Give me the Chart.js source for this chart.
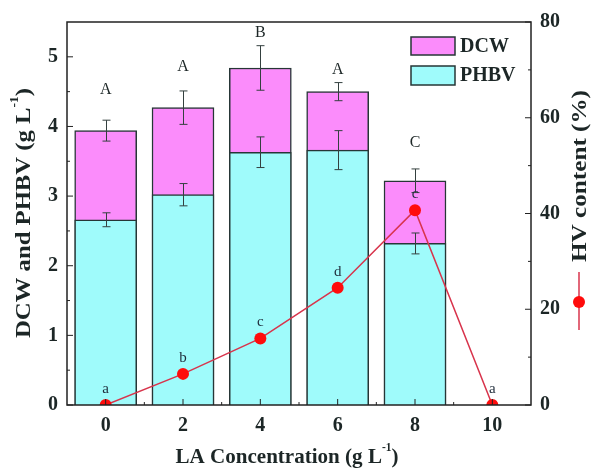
<!DOCTYPE html>
<html>
<head>
<meta charset="utf-8">
<script src="https://cdn.jsdelivr.net/npm/chart.js@4/dist/chart.umd.min.js"></script>
<style>
    html, body { margin: 0; padding: 0; background: #fff; }
    #wrap { width: 596px; height: 470px; }
</style>
</head>
<body>
<div id="wrap"><canvas id="chart"></canvas></div>
<script>
// data
let conc = [0, 2, 4, 6, 8, 10]
let dcw = [3.94, 4.27, 4.84, 4.50, 3.22, null]
let dcwErr = [0.15, 0.24, 0.32, 0.13, 0.17, null]
let phbv = [2.66, 3.02, 3.63, 3.66, 2.32, null]
let phbvErr = [0.10, 0.16, 0.22, 0.28, 0.15, null]
let hv = [0, 6.5, 13.9, 24.5, 40.7, 0]
let barLetters = ['A', 'A', 'B', 'A', 'C', '']
let barLetterY = [4.53, 4.86, 5.34, 4.81, 3.76, null]
let hvLetters = ['a', 'b', 'c', 'd', 'c', 'a']
let yTicks = [0, 1, 2, 3, 4, 5]
let yMinor = [0.5, 1.5, 2.5, 3.5, 4.5]
let y1Ticks = [0, 20, 40, 60, 80]
let y1Minor = [10, 30, 50, 70]
let xTicks = [0, 2, 4, 6, 8, 10]
let xMinor = [1, 3, 5, 7, 9]

const serif = '"Liberation Serif", "Times New Roman", serif'
const ink = '#1c2626'
const cyan = '#9ffbfb'
const pink = '#fb8cfb'
const red = '#ff0c0c'
const redLine = '#d8344c'

function pts(ys) {
    return conc.map((x, i) => ({ x: x, y: ys[i] }))
}

// title with a superscript, squeezed/stretched to a given length
function title(c, pre, sup, post, cx, cy, angle, size, len) {
    c.save()
    c.translate(cx, cy)
    c.rotate(angle)
    let big = 'bold ' + size + 'px ' + serif
    let small = 'bold ' + Math.round(size * 0.55) + 'px ' + serif
    c.font = big
    let w1 = c.measureText(pre).width
    let w3 = c.measureText(post).width
    c.font = small
    let w2 = sup ? c.measureText(sup).width : 0
    let total = w1 + w2 + w3
    c.scale(len / total, 1)
    let x = -total / 2
    c.fillStyle = ink
    c.textBaseline = 'middle'
    c.textAlign = 'left'
    c.font = big
    c.fillText(pre, x, 0)
    if (sup) {
        c.font = small
        c.fillText(sup, x + w1, -size * 0.4)
    }
    c.font = big
    c.fillText(post, x + w1 + w2, 0)
    c.restore()
}

const errorBars = {
    id: 'errorBars',
    afterDatasetDraw(chart, args) {
        if (args.index !== 1) return
        let c = chart.ctx
        let x = chart.scales.x, y = chart.scales.y
        c.save()
        c.strokeStyle = '#34403f'
        c.lineWidth = 1
        let draw = (vals, errs) => {
            vals.forEach((v, i) => {
                if (v == null) return
                let px = Math.round(x.getPixelForValue(conc[i])) + 0.5
                let top = y.getPixelForValue(v + errs[i])
                let bot = y.getPixelForValue(v - errs[i])
                c.beginPath()
                c.moveTo(px, top); c.lineTo(px, bot)
                c.moveTo(px - 4, top); c.lineTo(px + 4, top)
                c.moveTo(px - 4, bot); c.lineTo(px + 4, bot)
                c.stroke()
            })
        }
        draw(dcw, dcwErr)
        draw(phbv, phbvErr)
        c.restore()
    }
}

const decor = {
    id: 'decor',
    afterDraw(chart) {
        let c = chart.ctx
        let a = chart.chartArea
        let x = chart.scales.x, y = chart.scales.y, y1 = chart.scales.y1
        c.save()

        // frame
        c.strokeStyle = '#222'
        c.lineWidth = 1.5
        c.strokeRect(a.left, a.top, a.right - a.left, a.bottom - a.top)

        // tick marks, pointing inward
        c.lineWidth = 1
        c.beginPath()
        yTicks.forEach(v => { let p = y.getPixelForValue(v); c.moveTo(a.left, p); c.lineTo(a.left + 6, p) })
        yMinor.forEach(v => { let p = y.getPixelForValue(v); c.moveTo(a.left, p); c.lineTo(a.left + 3, p) })
        y1Ticks.forEach(v => { let p = y1.getPixelForValue(v); c.moveTo(a.right, p); c.lineTo(a.right - 6, p) })
        y1Minor.forEach(v => { let p = y1.getPixelForValue(v); c.moveTo(a.right, p); c.lineTo(a.right - 3, p) })
        xTicks.forEach(v => { let p = x.getPixelForValue(v); c.moveTo(p, a.bottom); c.lineTo(p, a.bottom - 6) })
        xMinor.forEach(v => { let p = x.getPixelForValue(v); c.moveTo(p, a.bottom); c.lineTo(p, a.bottom - 3) })
        c.stroke()

        // tick labels
        c.fillStyle = ink
        c.font = 'bold 20px ' + serif
        c.textBaseline = 'middle'
        c.textAlign = 'right'
        yTicks.forEach(v => c.fillText(String(v), a.left - 9, y.getPixelForValue(v)))
        c.textAlign = 'left'
        y1Ticks.forEach(v => c.fillText(String(v), a.right + 9, y1.getPixelForValue(v)))
        c.textAlign = 'center'
        xTicks.forEach(v => c.fillText(String(v), x.getPixelForValue(v), a.bottom + 21))

        // axis titles
        title(c, 'DCW and PHBV (g L', '-1', ')', 24, 213, -Math.PI / 2, 22, 250)
        title(c, 'LA Concentration (g L', '-1', ')', 287, 457, 0, 22, 223)
        title(c, 'HV content (%)', '', '', 580, 176, -Math.PI / 2, 22, 172)
        // line+marker key below the right title
        c.strokeStyle = redLine
        c.lineWidth = 1.5
        c.beginPath()
        c.moveTo(579, 272); c.lineTo(579, 330)
        c.stroke()
        c.fillStyle = red
        c.beginPath()
        c.arc(579, 302, 6, 0, Math.PI * 2)
        c.fill()

        // legend for the bars
        c.lineWidth = 1.5
        c.strokeStyle = '#263636'
        c.fillStyle = pink
        c.fillRect(411, 37, 44, 18); c.strokeRect(411, 37, 44, 18)
        c.fillStyle = cyan
        c.fillRect(411, 66, 44, 19); c.strokeRect(411, 66, 44, 19)
        c.fillStyle = ink
        c.font = 'bold 20px ' + serif
        c.textAlign = 'left'
        c.fillText('DCW', 460, 47)
        c.fillText('PHBV', 460, 76)

        // significance letters
        c.font = '16px ' + serif
        c.textAlign = 'center'
        barLetters.forEach((t, i) => {
            if (!t) return
            c.fillText(t, x.getPixelForValue(conc[i]), y.getPixelForValue(barLetterY[i]))
        })
        c.fillStyle = '#1f2c3a'
        c.font = '15px ' + serif
        hvLetters.forEach((t, i) => {
            c.fillText(t, x.getPixelForValue(conc[i]), y1.getPixelForValue(hv[i]) - 16)
        })
        c.restore()
    }
}

const chart = new Chart(document.getElementById('chart').getContext('2d'), {
    type: 'bar',
    data: {
        datasets: [{
            type: 'line',
            label: 'HV content',
            data: pts(hv),
            yAxisID: 'y1',
            order: 0,
            clip: 0,
            borderColor: redLine,
            borderWidth: 1.5,
            pointRadius: 6,
            pointBackgroundColor: red,
            pointBorderWidth: 0,
            tension: 0
        }, {
            label: 'PHBV',
            data: pts(phbv),
            yAxisID: 'y',
            order: 1,
            backgroundColor: cyan,
            borderColor: '#263636',
            borderWidth: 1.5,
            barThickness: 62,
            grouped: false
        }, {
            label: 'DCW',
            data: pts(dcw),
            yAxisID: 'y',
            order: 2,
            backgroundColor: pink,
            borderColor: '#263636',
            borderWidth: 1.5,
            barThickness: 62,
            grouped: false
        }]
    },
    options: {
        responsive: true,
        maintainAspectRatio: false,
        animation: false,
        layout: { padding: { top: 22, left: 0, right: 0, bottom: 0 } },
        plugins: { legend: { display: false }, tooltip: { enabled: false } },
        scales: {
            x: {
                type: 'linear',
                min: -1,
                max: 11,
                offset: false,
                grid: { display: false },
                border: { display: false },
                ticks: { display: false },
                afterFit(s) { s.height = 65 }
            },
            y: {
                position: 'left',
                min: 0,
                max: 5.5,
                grid: { display: false },
                border: { display: false },
                ticks: { display: false },
                afterFit(s) { s.width = 67 }
            },
            y1: {
                position: 'right',
                min: 0,
                max: 80,
                grid: { display: false },
                border: { display: false },
                ticks: { display: false },
                afterFit(s) { s.width = 65 }
            }
        }
    },
    plugins: [errorBars, decor]
});
</script>
</body>
</html>
